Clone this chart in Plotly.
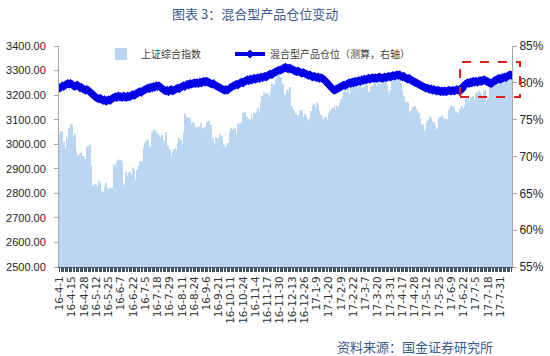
import plotly.graph_objects as go

tick_labels = ["16-4-1", "16-4-15", "16-4-28", "16-5-12", "16-5-25", "16-6-7", "16-6-22",
               "16-7-5", "16-7-18", "16-7-29", "16-8-11", "16-8-24", "16-9-6", "16-9-21",
               "16-10-11", "16-10-24", "16-11-4", "16-11-17", "16-11-30", "16-12-13",
               "16-12-26", "17-1-9", "17-1-20", "17-2-9", "17-2-22", "17-3-7", "17-3-20",
               "17-3-31", "17-4-17", "17-4-28", "17-5-12", "17-5-25", "17-6-9", "17-6-22",
               "17-7-5", "17-7-18", "17-7-31"]
tick_step = 9  # trading days between labelled dates

sse_index = [
    3040, 3053, 3050, 3009, 2985, 3034, 3023, 3066, 3082,
    3078, 3034, 3043, 2972, 2953, 2959, 2946, 2964, 2953,
    2946, 2938, 2992, 2991, 2998, 2913, 2832, 2833, 2837,
    2835, 2827, 2850, 2843, 2807, 2806, 2825, 2843, 2821,
    2815, 2822, 2822, 2822, 2917, 2913, 2925, 2938, 2934,
    2936, 2927, 2834, 2842, 2887, 2873, 2885, 2888, 2878,
    2905, 2892, 2854, 2895, 2912, 2931, 2930, 2932, 2988,
    3007, 3017, 3016, 2989, 2995, 3049, 3060, 3054, 3054,
    3043, 3036, 3027, 3039, 3012, 3015, 3050, 2993, 2994,
    2979, 2953, 2971, 2978, 2982, 2976, 3004, 3025, 3018,
    3002, 3050, 3125, 3110, 3110, 3104, 3108, 3084, 3089,
    3085, 3068, 3070, 3070, 3074, 3085, 3063, 3067, 3072,
    3090, 3092, 3096, 3078, 3022, 3023, 3002, 3026, 3023,
    3025, 3042, 3033, 2980, 2998, 2987, 2999, 3005, 3048,
    3065, 3058, 3061, 3064, 3041, 3084, 3084, 3085, 3091,
    3128, 3131, 3116, 3112, 3104, 3100, 3122, 3102, 3128,
    3125, 3133, 3148, 3128, 3171, 3196, 3211, 3207, 3205,
    3208, 3192, 3218, 3248, 3241, 3241, 3262, 3278, 3282,
    3250, 3273, 3244, 3204, 3199, 3222, 3215, 3233, 3152,
    3155, 3140, 3117, 3123, 3118, 3102, 3137, 3139, 3110,
    3122, 3114, 3102, 3096, 3104, 3135, 3159, 3165, 3154,
    3171, 3161, 3136, 3119, 3112, 3103, 3108, 3113, 3101,
    3123, 3136, 3143, 3149, 3159, 3140, 3156, 3153, 3167,
    3183, 3197, 3217, 3217, 3212, 3229, 3202, 3240, 3253,
    3261, 3251, 3253, 3228, 3241, 3247, 3230, 3218, 3233,
    3242, 3240, 3216, 3212, 3237, 3239, 3241, 3268, 3237,
    3250, 3261, 3245, 3248, 3269, 3266, 3252, 3241, 3210,
    3223, 3270, 3281, 3287, 3269, 3288, 3274, 3276, 3246,
    3222, 3196, 3170, 3173, 3173, 3129, 3134, 3140, 3152,
    3155, 3143, 3135, 3127, 3103, 3080, 3080, 3053, 3062,
    3090, 3098, 3113, 3105, 3091, 3091, 3075, 3062, 3065,
    3108, 3111, 3117, 3102, 3105, 3092, 3102, 3140, 3150,
    3158, 3153, 3153, 3130, 3132, 3123, 3144, 3140, 3157,
    3147, 3158, 3185, 3191, 3173, 3189, 3192, 3195, 3182,
    3208, 3212, 3218, 3212, 3203, 3197, 3219, 3222, 3176,
    3187, 3231, 3245, 3238, 3250, 3244, 3247, 3250, 3253,
    3273, 3292, 3285, 3272, 3262, 3279, 3281, 3276, 3262,
]

position = [
    79.3, 79.4, 79.6, 79.5, 79.7, 79.8, 79.9, 79.8, 79.9,
    79.8, 79.6, 79.5, 79.6, 79.7, 79.5, 79.3, 79.4, 79.2,
    79.1, 79.0, 79.1, 79.0, 78.8, 78.6, 78.5, 78.3, 78.1,
    78.0, 77.9, 77.8, 77.9, 77.7, 77.6, 77.7, 77.5, 77.6,
    77.7, 77.6, 77.8, 77.9, 78.0, 78.1, 78.0, 78.2, 78.1,
    78.1, 78.0, 78.2, 78.1, 78.0, 78.2, 78.1, 78.2, 78.3,
    78.4, 78.3, 78.5, 78.6, 78.7, 78.8, 78.7, 78.9, 79.0,
    79.1, 79.2, 79.3, 79.2, 79.4, 79.3, 79.5, 79.4, 79.6,
    79.5, 79.6, 79.4, 79.3, 79.1, 79.0, 78.9, 79.0, 78.8,
    79.0, 79.1, 78.9, 79.0, 79.1, 79.2, 79.3, 79.2, 79.4,
    79.5, 79.6, 79.5, 79.7, 79.8, 79.7, 79.9, 79.8, 79.9,
    80.0, 79.9, 80.0, 79.9, 80.1, 80.0, 80.1, 80.2, 80.1,
    80.2, 80.1, 80.0, 79.9, 79.8, 79.9, 79.7, 79.6, 79.5,
    79.4, 79.3, 79.2, 79.1, 79.0, 79.1, 79.0, 79.1, 79.3,
    79.4, 79.5, 79.6, 79.7, 79.8, 79.7, 79.9, 80.0, 80.1,
    80.0, 80.2, 80.3, 80.4, 80.3, 80.5, 80.4, 80.5, 80.6,
    80.5, 80.6, 80.7, 80.6, 80.8, 80.7, 80.8, 80.9, 80.8,
    81.0, 81.1, 81.2, 81.1, 81.3, 81.4, 81.5, 81.6, 81.7,
    81.7, 81.8, 81.9, 82.0, 82.1, 82.0, 81.9, 82.0, 81.9,
    81.8, 81.7, 81.6, 81.5, 81.6, 81.5, 81.4, 81.3, 81.4,
    81.3, 81.2, 81.1, 81.0, 81.1, 80.9, 80.8, 80.9, 80.8,
    80.7, 80.8, 80.6, 80.7, 80.6, 80.5, 80.3, 80.1, 79.9,
    79.7, 79.5, 79.3, 79.1, 79.0, 79.1, 79.2, 79.3, 79.4,
    79.5, 79.6, 79.7, 79.6, 79.8, 79.9, 80.0, 79.9, 80.1,
    80.0, 80.2, 80.1, 80.2, 80.3, 80.2, 80.4, 80.3, 80.5,
    80.4, 80.5, 80.6, 80.5, 80.6, 80.7, 80.6, 80.7, 80.6,
    80.7, 80.8, 80.7, 80.6, 80.7, 80.8, 80.7, 80.8, 80.9,
    80.8, 80.9, 81.0, 80.9, 81.0, 81.1, 81.0, 81.1, 80.9,
    80.8, 80.9, 80.7, 80.6, 80.5, 80.6, 80.4, 80.3, 80.2,
    80.1, 80.0, 79.9, 79.8, 79.7, 79.6, 79.5, 79.4, 79.3,
    79.3, 79.2, 79.1, 79.2, 79.0, 79.1, 79.0, 78.9, 79.0,
    78.9, 78.8, 78.9, 78.8, 78.9, 78.8, 78.9, 79.0, 78.9,
    78.9, 79.0, 78.9, 79.0, 79.1, 79.0, 79.1, 79.0, 79.2,
    79.6, 79.8, 79.9, 80.0, 79.9, 80.1, 80.0, 80.2, 80.1,
    80.2, 80.1, 80.2, 80.3, 80.2, 80.3, 80.4, 80.3, 80.2,
    80.1, 80.0, 79.9, 80.0, 80.2, 80.3, 80.4, 80.5, 80.6,
    80.5, 80.6, 80.7, 80.8, 80.7, 80.9, 81.0, 81.1, 81.0,
]

series_names = ["上证综合指数", "混合型产品仓位（测算，右轴）"]
title_text = "图表 3：混合型产品仓位变动"
source_text = "资料来源：国金证券研究所"

x_idx = list(range(len(sse_index)))
tick_vals = [i * tick_step for i in range(len(tick_labels))]

W, H = 550, 356
ML, MR, MT, MB = 59, 38, 46, 89
PW, PH = W - ML - MR, H - MT - MB


def px_x(p):
    return (p - ML) / PW


def px_y(p):
    return (H - MB - p) / PH


fig = go.Figure()
fig.add_trace(go.Bar(
    x=x_idx, y=sse_index, name=series_names[0],
    marker=dict(color="#BBD6F2", line=dict(width=0)),
    yaxis="y", legend="legend",
))
fig.add_trace(go.Scatter(
    x=x_idx, y=position, name=series_names[1], mode="lines+markers",
    line=dict(color="#0000E6", width=4),
    marker=dict(symbol="diamond", size=7, color="#0000E6"),
    yaxis="y2", legend="legend2",
))

axis_font = dict(family="Liberation Sans, Arial, sans-serif", size=11, color="#262626")
legend_font = dict(family="Noto Sans CJK SC, sans-serif", size=10, color="#404040")

fig.update_layout(
    width=W, height=H,
    margin=dict(l=ML, r=MR, t=MT, b=MB, pad=0, autoexpand=False),
    paper_bgcolor="white", plot_bgcolor="white",
    bargap=0.3,
    showlegend=True,
    legend=dict(
        orientation="h", x=px_x(101), xanchor="left", y=px_y(54), yanchor="middle",
        font=legend_font, bgcolor="rgba(0,0,0,0)",
    ),
    legend2=dict(
        orientation="h", x=px_x(230), xanchor="left", y=px_y(54), yanchor="middle",
        font=legend_font, bgcolor="rgba(0,0,0,0)",
    ),
    xaxis=dict(
        range=[-0.5, len(sse_index) - 0.5],
        tickmode="array", tickvals=tick_vals, ticktext=tick_labels,
        tickangle=-90, ticks="outside", ticklen=4, tickcolor="#44546A",
        tickfont=dict(family="DejaVu Sans, sans-serif", size=10.5, color="#333333"),
        showline=True, linecolor="#44546A", linewidth=1,
        showgrid=False, zeroline=False,
        minor=dict(dtick=1, tick0=0, ticks="outside", ticklen=4, tickcolor="#44546A", showgrid=False),
    ),
    yaxis=dict(
        range=[2500, 3400], dtick=100, tickformat=".2f",
        showline=True, linecolor="#A6A6A6", linewidth=1,
        ticks="outside", ticklen=4, tickcolor="#A6A6A6",
        showgrid=False, zeroline=False, tickfont=axis_font,
        ticklabelstandoff=6,
    ),
    yaxis2=dict(
        range=[55, 85], dtick=5, ticksuffix="%", overlaying="y", side="right",
        showline=True, linecolor="#A6A6A6", linewidth=1,
        ticks="outside", ticklen=4, tickcolor="#A6A6A6",
        showgrid=False, zeroline=False,
        tickfont=dict(family="Liberation Sans, Arial, sans-serif", size=12, color="#262626"),
    ),
)

fig.add_shape(
    type="rect", xref="paper", yref="paper",
    x0=px_x(460), x1=px_x(520), y0=px_y(97), y1=px_y(62),
    line=dict(color="#E0201B", width=2, dash="dash"),
    fillcolor="rgba(0,0,0,0)",
)

fig.add_annotation(
    text=title_text, xref="paper", yref="paper", x=px_x(170), y=px_y(13),
    xanchor="left", yanchor="middle", showarrow=False,
    font=dict(family="Noto Sans CJK SC, sans-serif", size=13, color="#3A5B8E"),
)
fig.add_annotation(
    text=source_text, xref="paper", yref="paper", x=px_x(335), y=px_y(346),
    xanchor="left", yanchor="middle", showarrow=False,
    font=dict(family="Noto Sans CJK SC, sans-serif", size=13, color="#3A5B8E"),
)

fig.write_html(
    "out.html",
    config={"displayModeBar": False},
    post_script="document.body.style.margin='0px';document.body.style.overflow='hidden';",
)
